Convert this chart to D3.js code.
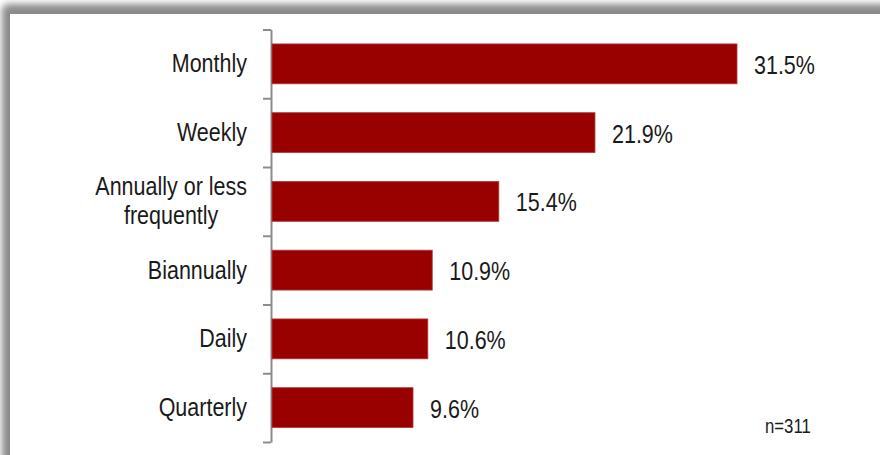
<!DOCTYPE html>
<html>
<head>
<meta charset="utf-8">
<script src="https://cdn.jsdelivr.net/npm/d3@7"></script>
<style>
  html, body { margin: 0; padding: 0; background: #fff; }
  svg { display: block; }
  text { font-family: "Liberation Sans", Arial, sans-serif; fill: #1a1a1a; }
</style>
</head>
<body>
<svg id="chart" width="880" height="455"></svg>
<script>
// Survey responses: how often, share of respondents (%)
const categories = ["Monthly", "Weekly", "Annually or less frequently", "Biannually", "Daily", "Quarterly"];
const categoryLines = [["Monthly"], ["Weekly"], ["Annually or less", "frequently"], ["Biannually"], ["Daily"], ["Quarterly"]];
const values = [31.5, 21.9, 15.4, 10.9, 10.6, 9.6];
const valueLabels = ["31.5%", "21.9%", "15.4%", "10.9%", "10.6%", "9.6%"];
const sampleNote = "n=311";

const W = 880, H = 455;
const narrow = 0.86; // horizontal squeeze for a condensed look
const svg = d3.select("#chart");

// Panel with a soft shadow along its top and left edges
const defs = svg.append("defs");
const blur = defs.append("filter").attr("id", "shadow")
  .attr("x", "-10%").attr("y", "-10%").attr("width", "120%").attr("height", "120%");
blur.append("feGaussianBlur").attr("stdDeviation", 3.5);

svg.append("rect").attr("width", W).attr("height", H).attr("fill", "#fff");
svg.append("rect")
  .attr("x", 2).attr("y", 4).attr("width", W + 40).attr("height", H + 40)
  .attr("rx", 6)
  .attr("fill", "#8a8a8a")
  .attr("filter", "url(#shadow)");
svg.append("rect")
  .attr("x", 10).attr("y", 14).attr("width", W).attr("height", H)
  .attr("fill", "#fff");

// Scales
const axisX = 271;
const plotTop = 29.5, plotBottom = 442;
const y = d3.scaleBand().domain(categories).range([plotTop, plotBottom]).paddingInner(0.42).paddingOuter(0.21);
const x = d3.scaleLinear().domain([0, 31.5]).range([axisX, 737]);

// Category axis with tick marks between bands
const tickScale = d3.scaleLinear().domain([0, categories.length]).range([plotTop, plotBottom]);
const axis = svg.append("g")
  .attr("transform", `translate(${axisX},0)`)
  .call(d3.axisLeft(tickScale)
    .tickValues(d3.range(categories.length + 1))
    .tickSize(8).tickSizeOuter(0).tickFormat(""));
axis.select(".domain").attr("stroke", "#8c8c8c").attr("stroke-width", 2);
axis.selectAll(".tick line").attr("stroke", "#8c8c8c").attr("stroke-width", 2);

// Bars
svg.append("g").selectAll("rect")
  .data(values)
  .join("rect")
  .attr("x", x(0) + 1)
  .attr("y", (d, i) => y(categories[i]))
  .attr("width", d => x(d) - x(0) - 1)
  .attr("height", y.bandwidth())
  .attr("fill", "#990000")
  .attr("stroke", "#b03a3a")
  .attr("stroke-width", 0.8);

// Category labels: block right-aligned to the axis, lines centred within it
const labels = svg.append("g").selectAll("text")
  .data(categoryLines)
  .join("text")
  .attr("text-anchor", "middle")
  .attr("font-size", 25)
  .attr("transform", (d, i) => `translate(247,${y(categories[i]) + y.bandwidth() / 2}) scale(${narrow},1)`);
labels.each(function (lines) {
  const t = d3.select(this);
  const lh = 29;
  const spans = lines.map((line, k) => t.append("tspan")
    .attr("y", (k - (lines.length - 1) / 2) * lh)
    .attr("dy", "0.34em")
    .text(line));
  const maxW = d3.max(spans, s => s.node().getComputedTextLength());
  spans.forEach(s => s.attr("x", -maxW / 2));
});

// Value labels
svg.append("g").selectAll("text")
  .data(values)
  .join("text")
  .attr("transform", (d, i) => `translate(${x(d) + 17},${y(categories[i]) + y.bandwidth() / 2}) scale(${narrow},1)`)
  .attr("dy", "0.4em")
  .attr("font-size", 25)
  .text((d, i) => valueLabels[i]);

// Sample size note
svg.append("text")
  .attr("transform", `translate(765,433) scale(${narrow},1)`)
  .attr("font-size", 19.5)
  .text(sampleNote);
</script>
</body>
</html>
